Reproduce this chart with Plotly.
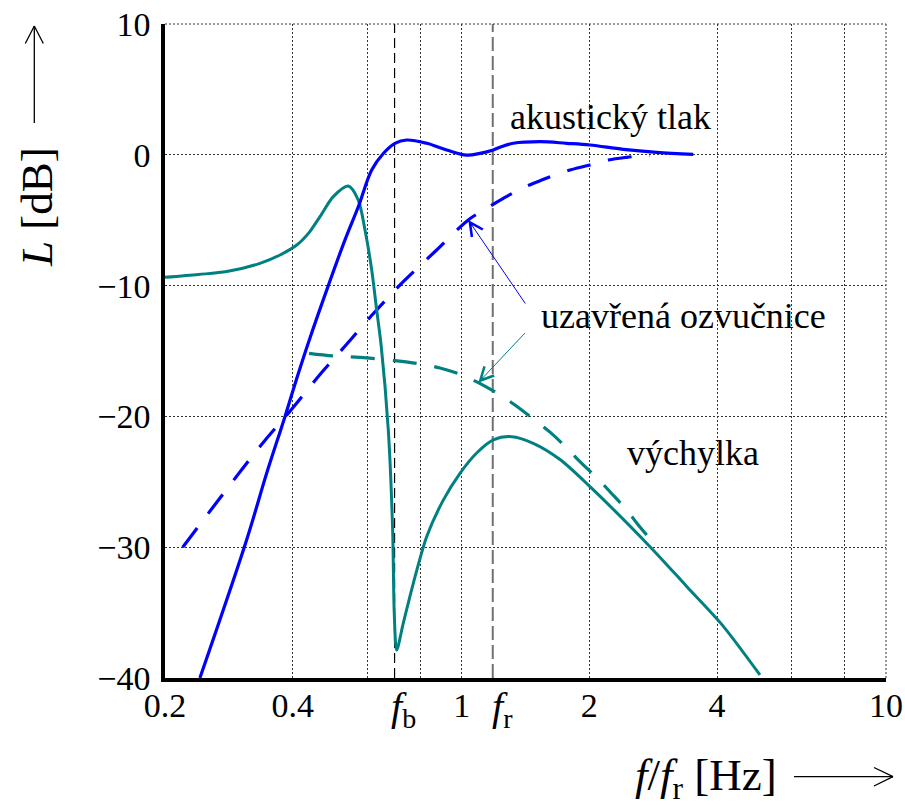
import math
import plotly.graph_objects as go

# ---------------- data ----------------
# acoustic pressure (solid blue) - vented box
tlak_x = [0.2417, 0.3114, 0.3472, 0.3836, 0.4087, 0.4392, 0.4851, 0.5311, 0.5708, 0.6139,
          0.6537, 0.6964, 0.7422, 0.8272, 0.9221, 1.0278, 1.1046, 1.1875, 1.2313, 1.3234,
          1.5299, 1.7683, 2.0067, 2.4044, 2.882, 3.515]
tlak_y = [-40.0, -29.45, -24.35, -20.0, -17.1, -14.0, -10.0, -6.5, -3.97, -1.16,
          0.1, 0.88, 1.13, 0.88, 0.37, -0.02, 0.11, 0.37, 0.58, 0.88,
          1.0, 0.88, 0.75, 0.42, 0.19, 0.04]

# acoustic pressure (dashed blue) - closed box
tlak_uz_x = [0.2202, 0.3348, 0.3941, 0.4637, 0.5456, 0.5761, 0.625, 0.7287, 0.8733, 1.0368,
             1.1456, 1.2536, 1.3973, 1.5441, 1.7683, 2.0067, 2.2163, 2.4491, 2.779]
tlak_uz_y = [-30.0, -22.3, -19.6, -16.8, -14.2, -13.3, -12.0, -9.7, -7.28, -4.98,
             -4.09, -3.33, -2.51, -1.93, -1.24, -0.78, -0.4, -0.19, -0.02]

# displacement (solid teal) - vented box
vych_x = [0.2, 0.24, 0.2795, 0.3348, 0.3733, 0.4087, 0.437, 0.4637, 0.4984, 0.5407,
          0.5708, 0.592, 0.6139, 0.6307, 0.6463, 0.6716, 0.6878, 0.6938, 0.703, 0.7287,
          0.7694, 0.8272, 0.9053, 0.9911, 1.0851, 1.1875, 1.3118, 1.4752, 1.7053, 2.0067,
          2.779, 3.3912, 4.1014, 5.0466]
vych_y = [-9.37, -9.15, -8.93, -8.3, -7.66, -6.9, -5.95, -4.73, -3.2, -2.39,
          -3.46, -5.75, -8.8, -11.87, -14.6, -21.0, -28.7, -35.05, -37.86, -35.8,
          -32.76, -29.2, -26.4, -24.35, -22.8, -21.8, -21.55, -22.06, -23.3, -25.37,
          -29.96, -33.0, -35.9, -39.77]

# displacement (dashed teal) - closed box
vych_uz_x = [0.437, 0.4984, 0.5761, 0.6964, 0.7978, 0.8891, 1.0003, 1.0946, 1.2313, 1.3357,
             1.4889, 1.6153, 1.7683, 1.9002, 2.0993, 2.2368, 2.4491, 2.6082, 2.8556]
vych_uz_y = [-15.18, -15.38, -15.48, -15.74, -15.99, -16.3, -16.83, -17.42, -18.36, -19.13,
             -20.3, -21.2, -22.4, -23.46, -24.8, -25.76, -27.16, -28.3, -29.8]

f_b = 0.695
f_r = 1.184

x_tickvals = [0.2, 0.4, 1, 2, 4, 10]
x_ticktext = ["0.2", "0.4", "1", "2", "4", "10"]
x_gridvals = [0.4, 0.6, 0.8, 1, 2, 4, 6, 8, 10]
y_tickvals = [-40, -30, -20, -10, 0, 10]

# ---------------- styling / layout ----------------
W, H = 905, 805
L, R, T, B = 165, 886, 24, 678
FONT = "Liberation Serif, Times New Roman, serif"
BLUE = "#0000FF"
TEAL = "#008080"


def pxx(px):
    return (px - L) / (R - L)


def pyy(py):
    return (B - py) / (B - T)


fig = go.Figure()

# vertical reference lines at f_b and f_r
fig.add_trace(go.Scatter(x=[f_b, f_b], y=[-40, 10], mode="lines",
                         line=dict(color="black", width=1.2, dash="10px,5px"),
                         hoverinfo="skip", showlegend=False))
fig.add_trace(go.Scatter(x=[f_r, f_r], y=[-40, 10], mode="lines",
                         line=dict(color="#707070", width=2, dash="14px,5px"),
                         hoverinfo="skip", showlegend=False))

fig.add_trace(go.Scatter(x=tlak_uz_x, y=tlak_uz_y, mode="lines",
                         line=dict(color=BLUE, width=3.2, dash="24px,18px", shape="spline", smoothing=1),
                         showlegend=False))
fig.add_trace(go.Scatter(x=vych_uz_x, y=vych_uz_y, mode="lines",
                         line=dict(color=TEAL, width=3.2, dash="24px,18px", shape="spline", smoothing=1),
                         showlegend=False))
fig.add_trace(go.Scatter(x=vych_x, y=vych_y, mode="lines",
                         line=dict(color=TEAL, width=3, shape="spline", smoothing=0.8),
                         showlegend=False))
fig.add_trace(go.Scatter(x=tlak_x, y=tlak_y, mode="lines",
                         line=dict(color=BLUE, width=3.2, shape="spline", smoothing=1),
                         showlegend=False))

GRID = dict(griddash="2px,2px", gridcolor="#333333", gridwidth=1)

fig.update_layout(
    width=W, height=H, autosize=False,
    margin=dict(l=L, r=W - R, t=T, b=H - B, pad=0),
    paper_bgcolor="white", plot_bgcolor="white",
    font=dict(family=FONT, color="black"),
    xaxis=dict(type="log", range=[math.log10(0.2), math.log10(10)], automargin=False,
               tickmode="array", tickvals=x_tickvals, ticktext=x_ticktext,
               showgrid=False, zeroline=False, ticks="",
               showline=True, linewidth=3.5, linecolor="black",
               tickfont=dict(family=FONT, size=34, color="black"),
               ticklabelstandoff=-6,
               minor=dict(tickmode="array", tickvals=x_gridvals, showgrid=True, ticks="", **GRID)),
    yaxis=dict(range=[-40, 10], tickmode="array", tickvals=y_tickvals, automargin=False,
               showgrid=True, zeroline=False, ticks="", **GRID,
               showline=True, linewidth=3.5, linecolor="black",
               tickfont=dict(family=FONT, size=34, color="black"),
               ticklabelstandoff=4),
)

shapes = []
# dotted top and right border
shapes.append(dict(type="line", xref="paper", yref="paper", x0=0, x1=1, y0=1, y1=1,
                   line=dict(color="#333333", width=1, dash="2px,2px")))
shapes.append(dict(type="line", xref="paper", yref="paper", x0=1, x1=1, y0=0, y1=1,
                   line=dict(color="#333333", width=1, dash="2px,2px")))
# y-axis arrow
ARW = dict(color="black", width=1.3)
shapes.append(dict(type="line", xref="paper", yref="paper", x0=pxx(34.3), x1=pxx(34.3),
                   y0=pyy(123), y1=pyy(26), line=ARW))
shapes.append(dict(type="line", xref="paper", yref="paper", x0=pxx(25.3), x1=pxx(34.3),
                   y0=pyy(43.5), y1=pyy(26), line=ARW))
shapes.append(dict(type="line", xref="paper", yref="paper", x0=pxx(43.3), x1=pxx(34.3),
                   y0=pyy(43.5), y1=pyy(26), line=ARW))
# x-axis arrow
shapes.append(dict(type="line", xref="paper", yref="paper", x0=pxx(794), x1=pxx(893),
                   y0=pyy(776.7), y1=pyy(776.7), line=ARW))
shapes.append(dict(type="line", xref="paper", yref="paper", x0=pxx(874), x1=pxx(893),
                   y0=pyy(767.5), y1=pyy(776.7), line=ARW))
shapes.append(dict(type="line", xref="paper", yref="paper", x0=pxx(874), x1=pxx(893),
                   y0=pyy(786), y1=pyy(776.7), line=ARW))
fig.update_layout(shapes=shapes)

ann = []
TXT = dict(family=FONT, size=36, color="black")
ann.append(dict(x=math.log10(2.248), y=2.9, xref="x", yref="y", text="akustický tlak",
                showarrow=False, font=TXT, xanchor="center", yanchor="middle"))
ann.append(dict(x=math.log10(3.34), y=-12.3, xref="x", yref="y", text="uzavřená ozvučnice",
                showarrow=False, font=TXT, xanchor="center", yanchor="middle"))
ann.append(dict(x=math.log10(3.51), y=-22.8, xref="x", yref="y", text="výchylka",
                showarrow=False, font=TXT, xanchor="center", yanchor="middle"))
# pointer arrows
ann.append(dict(x=math.log10(1.0368), y=-4.98, xref="x", yref="y", text="",
                showarrow=True, ax=58, ay=85, arrowhead=5, arrowsize=2.6, arrowwidth=1,
                arrowcolor=BLUE))
ann.append(dict(x=math.log10(1.0946), y=-17.42, xref="x", yref="y", text="",
                showarrow=True, ax=48, ay=-51, arrowhead=5, arrowsize=2.6, arrowwidth=1,
                arrowcolor=TEAL))
# f_b, f_r tick labels
LBL = dict(family=FONT, size=40, color="black")
ann.append(dict(x=pxx(389), y=0, xref="paper", yref="paper", yshift=-4,
                text="<i>f</i><sub>b</sub>", showarrow=False, font=LBL,
                xanchor="left", yanchor="top"))
ann.append(dict(x=pxx(490), y=0, xref="paper", yref="paper", yshift=-4,
                text="<i>f</i><sub>r</sub>", showarrow=False, font=LBL,
                xanchor="left", yanchor="top"))
# axis titles
TTL = dict(family=FONT, size=45, color="black")
ann.append(dict(x=pxx(37), y=pyy(207), xref="paper", yref="paper",
                text="<i>L</i> [dB]", textangle=-90, showarrow=False, font=TTL,
                xanchor="center", yanchor="middle"))
ann.append(dict(x=pxx(706), y=pyy(778), xref="paper", yref="paper",
                text="<i>f</i>/<i>f</i><sub>r</sub> [Hz]", showarrow=False, font=TTL,
                xanchor="center", yanchor="middle"))
fig.update_layout(annotations=ann)

fig.write_html("out.html", config={"displayModeBar": False},
               post_script="document.body.style.margin='0';document.body.style.overflow='hidden';")
